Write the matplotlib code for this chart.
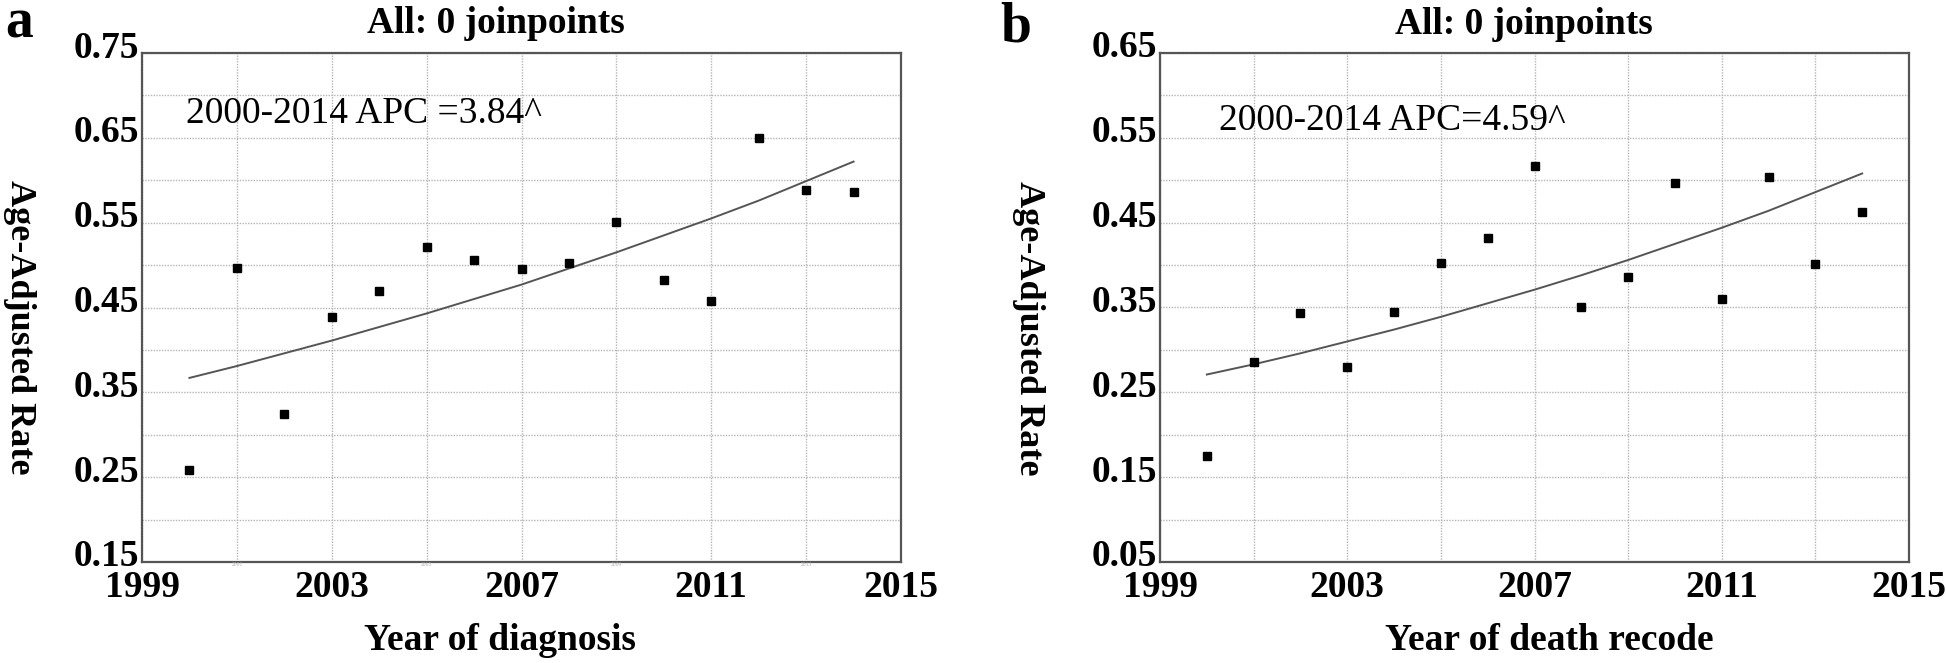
import numpy as np
import matplotlib
matplotlib.use('Agg')
import matplotlib.pyplot as plt
from matplotlib.transforms import ScaledTranslation

plt.rcParams.update({
    'font.family': 'Liberation Serif',
    'font.size': 27,
})

# Data
years = [2000, 2001, 2002, 2003, 2004, 2005, 2006, 2007,
         2008, 2009, 2010, 2011, 2012, 2013, 2014]

rate_diag = [0.258, 0.497, 0.325, 0.439, 0.470, 0.521, 0.506, 0.495,
             0.502, 0.551, 0.482, 0.458, 0.650, 0.589, 0.586]
fit_diag = [0.367, 0.381, 0.396, 0.411, 0.427, 0.443, 0.460, 0.477,
            0.496, 0.515, 0.535, 0.555, 0.576, 0.599, 0.622]

rate_death = [0.175, 0.286, 0.344, 0.280, 0.345, 0.403, 0.432, 0.517,
              0.350, 0.386, 0.497, 0.360, 0.504, 0.401, 0.462]
fit_death = [0.271, 0.283, 0.296, 0.310, 0.324, 0.339, 0.355, 0.371,
             0.388, 0.406, 0.425, 0.444, 0.464, 0.486, 0.508]

x_grid = [1999, 2001, 2003, 2005, 2007, 2009, 2011, 2013, 2015]
x_labels = ['1999', '', '2003', '', '2007', '', '2011', '', '2015']
faint_years = [2001, 2005, 2009, 2013]

W, H = 1946, 663
fig = plt.figure(figsize=(W / 100, H / 100), dpi=100)


def px_axes(left, top, right, bottom):
    return fig.add_axes([left / W, 1 - bottom / H, (right - left) / W, (bottom - top) / H])


def draw_panel(ax, rates, fit, ylo, apc_text, apc_pos, faint=False):
    yticks = np.round(np.arange(ylo, ylo + 0.6001, 0.05), 2)
    ax.set_xlim(1999, 2015)
    ax.set_ylim(ylo, ylo + 0.6)
    ax.set_xticks(x_grid)
    ax.set_xticklabels(x_labels, fontweight='bold', fontsize=27)
    ax.set_yticks(yticks)
    ax.set_yticklabels([f'{v:.2f}' if i % 2 == 0 else '' for i, v in enumerate(yticks)],
                       fontweight='bold', fontsize=27)
    ax.tick_params(axis='both', length=0)
    ax.tick_params(axis='x', pad=6)
    ax.tick_params(axis='y', pad=2)
    # y labels sit a little above their grid line in the reference
    shift = ScaledTranslation(0, 9 / 100, fig.dpi_scale_trans)
    for lbl in ax.get_yticklabels():
        lbl.set_transform(lbl.get_transform() + shift)
    ax.grid(True, color='#b5b5b5', linestyle=(0, (1, 1)), linewidth=1.0)
    for s in ax.spines.values():
        s.set_color('#555555')
        s.set_linewidth(1.6)

    ax.plot(years, fit, color='#555555', linewidth=1.4, zorder=3)
    ax.plot(years, rates, linestyle='none', marker='s', markersize=5.5,
            color='black', zorder=4)

    ax.text(apc_pos[0], apc_pos[1], apc_text, transform=ax.transAxes,
            fontsize=27, ha='left', va='baseline')

    if faint:
        for yr in faint_years:
            ax.text(yr, ylo, str(yr), fontsize=4, color='#aaaaaa',
                    ha='center', va='top', transform=ax.transData)


ax_a = px_axes(142, 53, 901, 562)
draw_panel(ax_a, rate_diag, fit_diag, 0.15, '2000-2014 APC =3.84^', (0.058, 0.862), faint=True)

ax_b = px_axes(1160, 53, 1909, 562)
draw_panel(ax_b, rate_death, fit_death, 0.05, '2000-2014 APC=4.59^', (0.079, 0.849))

# titles, axis labels and panel letters
fig.text(496 / W, 1 - 33 / H, 'All: 0 joinpoints', fontsize=27, fontweight='bold',
         ha='center', va='baseline')
fig.text(1524 / W, 1 - 34 / H, 'All: 0 joinpoints', fontsize=27, fontweight='bold',
         ha='center', va='baseline')

fig.text(500 / W, 1 - 650 / H, 'Year of diagnosis', fontsize=27, fontweight='bold',
         ha='center', va='baseline')
fig.text(1549 / W, 1 - 650 / H, 'Year of death recode', fontsize=27, fontweight='bold',
         ha='center', va='baseline')

fig.text(19 / W, 1 - 327 / H, 'Age-Adjusted Rate', fontsize=26, fontweight='bold',
         rotation=-90, ha='center', va='center')
fig.text(1029 / W, 1 - 328 / H, 'Age-Adjusted Rate', fontsize=26, fontweight='bold',
         rotation=-90, ha='center', va='center')

fig.text(5 / W, 1 - 37 / H, 'a', fontsize=40, fontweight='bold', ha='left', va='baseline')
fig.text(1000 / W, 1 - 42 / H, 'b', fontsize=40, fontweight='bold', ha='left', va='baseline')

fig.savefig('out.png', dpi=100)
